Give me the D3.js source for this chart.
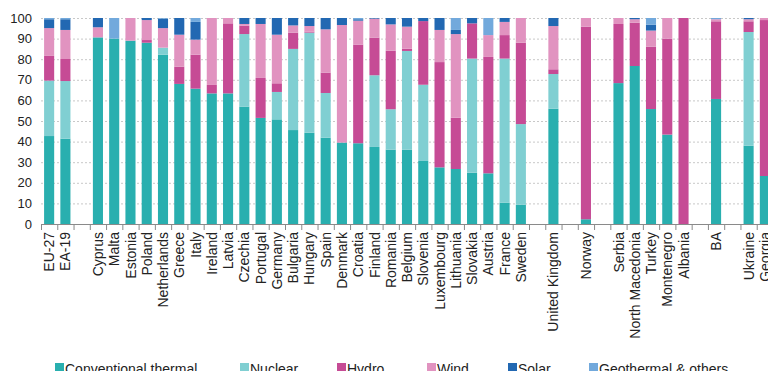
<!DOCTYPE html>
<html>
<head>
<meta charset="utf-8">
<script src="https://cdn.jsdelivr.net/npm/d3@7"></script>
<style>
  html, body { margin: 0; padding: 0; background: #fff; overflow: hidden; }
  svg { display: block; font-family: "Liberation Sans", Arial, sans-serif; }
</style>
</head>
<body>
<svg id="chart" width="768" height="371"></svg>
<script>
// Electricity generation by source, % of total (null marks an empty spacer slot)
const categories = [
  "EU-27", "EA-19", null,
  "Cyprus", "Malta", "Estonia", "Poland", "Netherlands", "Greece", "Italy", "Ireland", "Latvia",
  "Czechia", "Portugal", "Germany", "Bulgaria", "Hungary", "Spain", "Denmark", "Croatia", "Finland",
  "Romania", "Belgium", "Slovenia", "Luxembourg", "Lithuania", "Slovakia", "Austria", "France", "Sweden",
  null, "United Kingdom", null, "Norway", null,
  "Serbia", "North Macedonia", "Turkey", "Montenegro", "Albania", null, "BA", null,
  "Ukraine", "Georgia"
];

const thermal = [42.7, 41.4, null,
  90.6, 90.0, 89.0, 88.0, 82.2, 68.0, 65.7, 63.4, 63.4,
  57.0, 51.5, 50.8, 45.6, 44.3, 41.9, 39.5, 39.2, 37.4,
  36.1, 36.1, 30.6, 27.5, 26.7, 24.9, 24.6, 10.4, 9.4,
  null, 56.0, null, 2.3, null,
  68.4, 76.7, 55.8, 43.4, 0, null, 60.7, null,
  38.0, 23.3];

const nuclear = [26.9, 28.0, null,
  0, 0, 0, 0, 3.4, 0, 0, 0, 0,
  35.2, 0, 13.3, 39.4, 48.6, 21.7, 0, 0, 34.8,
  19.6, 47.9, 37.0, 0, 0, 55.4, 0, 69.9, 39.1,
  null, 16.8, null, 0, null,
  0, 0, 0, 0, 0, null, 0, null,
  55.2, 0];

const hydro = [12.0, 10.7, null,
  0, 0, 0, 1.3, 0, 8.4, 16.5, 4.1, 34.0,
  4.1, 19.4, 4.2, 7.9, 0.5, 9.9, 0.1, 47.9, 18.3,
  28.4, 1.1, 30.9, 51.1, 24.9, 17.1, 56.5, 11.4, 39.5,
  null, 2.3, null, 93.5, null,
  28.7, 21.0, 30.3, 46.6, 100, null, 37.7, null,
  5.2, 75.7];

const wind = [13.5, 14.1, null,
  4.9, 0, 11.0, 9.7, 9.5, 15.5, 7.3, 32.5, 2.6,
  0.8, 26.2, 23.6, 3.5, 2.7, 21.0, 57.0, 11.6, 9.2,
  12.8, 10.7, 0, 15.6, 40.6, 0, 10.6, 6.4, 12.0,
  null, 21.0, null, 4.2, null,
  2.9, 1.7, 7.8, 10.0, 0, null, 1.0, null,
  1.0, 1.0];

const solar = [4.3, 5.2, null,
  4.5, 0, 0, 1.0, 4.6, 8.1, 8.6, 0, 0,
  2.9, 2.9, 8.1, 3.6, 3.9, 5.5, 3.4, 0.7, 0.3,
  3.1, 4.2, 1.5, 5.8, 2.0, 2.6, 0, 1.9, 0,
  null, 3.9, null, 0, null,
  0, 0.6, 2.9, 0, 0, null, 0, null,
  0.6, 0];

const other = [0.6, 0.6, null,
  0, 10.0, 0, 0, 0.3, 0, 1.9, 0, 0,
  0, 0, 0, 0, 0, 0, 0, 0.6, 0,
  0, 0, 0, 0, 5.8, 0, 8.3, 0, 0,
  null, 0, null, 0, null,
  0, 0, 3.2, 0, 0, null, 0.6, null,
  0, 0];

const yTicks = [0, 10, 20, 30, 40, 50, 60, 70, 80, 90, 100];

const seriesNames = ["Conventional thermal", "Nuclear", "Hydro", "Wind", "Solar", "Geothermal & others"];
const seriesValues = [thermal, nuclear, hydro, wind, solar, other];
const seriesColors = ["#29afaf", "#80cfd2", "#c64b95", "#e193c0", "#2268b2", "#72a9dc"];

// Build rows for the stack layout (spacer slots are skipped)
const keys = d3.range(seriesNames.length).map(String);
const rows = categories.map((c, i) => {
  const r = { idx: i, name: c };
  keys.forEach(k => { r[k] = seriesValues[+k][i] || 0; });
  return r;
}).filter(r => r.name !== null);

const svg = d3.select("#chart");

const x = d3.scaleBand()
  .domain(d3.range(categories.length))
  .range([41, 773])
  .paddingInner(0.38)
  .paddingOuter(0.19);

const y = d3.scaleLinear().domain([0, 100]).range([224, 18]);

// Dotted grid lines
svg.append("g")
  .selectAll("line")
  .data(yTicks)
  .join("line")
  .attr("x1", 41).attr("x2", 768)
  .attr("y1", d => y(d) + 0.5).attr("y2", d => y(d) + 0.5)
  .attr("stroke", "#c8c8c8")
  .attr("stroke-width", 1)
  .attr("stroke-dasharray", "2,2");

// Y tick labels
svg.append("g")
  .selectAll("text")
  .data(yTicks)
  .join("text")
  .attr("x", 32)
  .attr("y", d => y(d))
  .attr("dy", "0.35em")
  .attr("text-anchor", "end")
  .attr("font-size", 13)
  .attr("fill", "#222")
  .text(d => d);

// Stacked bars
const stacked = d3.stack().keys(keys)(rows);
svg.append("g")
  .selectAll("g")
  .data(stacked)
  .join("g")
  .attr("fill", d => seriesColors[+d.key])
  .selectAll("rect")
  .data(d => d)
  .join("rect")
  .attr("x", d => x(d.data.idx))
  .attr("width", x.bandwidth())
  .attr("y", d => y(d[1]))
  .attr("height", d => Math.max(0, y(d[0]) - y(d[1])));

// X axis line with ticks between slots
const axisG = svg.append("g").attr("stroke", "#8a8a8a");
axisG.append("line")
  .attr("x1", 41).attr("x2", 768)
  .attr("y1", 224.5).attr("y2", 224.5);
const step = x.step();
axisG.selectAll("line.tick")
  .data(d3.range(categories.length + 1))
  .join("line")
  .attr("class", "tick")
  .attr("x1", i => 41 + i * step + 0.5)
  .attr("x2", i => 41 + i * step + 0.5)
  .attr("y1", 224).attr("y2", 230);

// Rotated category labels
svg.append("g")
  .selectAll("text")
  .data(rows)
  .join("text")
  .attr("transform", d => `translate(${x(d.idx) + x.bandwidth() / 2},232) rotate(-90)`)
  .attr("text-anchor", "end")
  .attr("dy", "0.36em")
  .attr("font-size", 14)
  .attr("fill", "#222")
  .text(d => d.name);

// Legend
const legendX = [55, 240, 337, 427, 508, 589];
const legend = svg.append("g")
  .selectAll("g")
  .data(seriesNames)
  .join("g")
  .attr("transform", (d, i) => `translate(${legendX[i]},363)`);
legend.append("rect")
  .attr("width", 9).attr("height", 9)
  .attr("fill", (d, i) => seriesColors[i]);
legend.append("text")
  .attr("x", 10)
  .attr("y", 10.5)
  .attr("font-size", 14)
  .attr("fill", "#222")
  .text(d => d);
</script>
</body>
</html>
